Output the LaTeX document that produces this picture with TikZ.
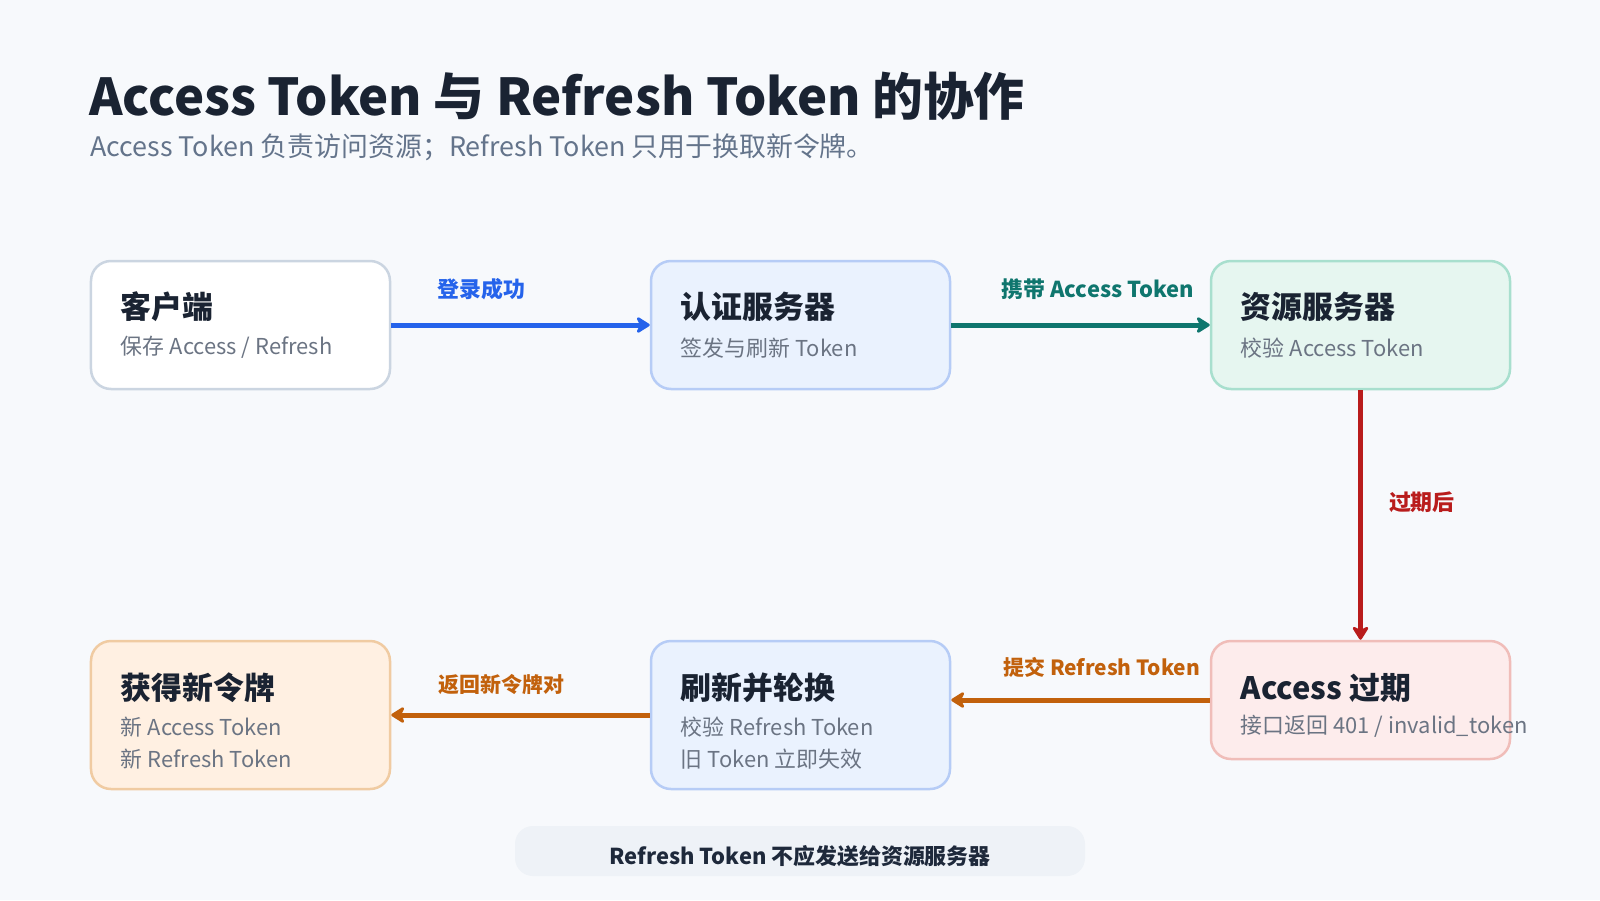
\documentclass[tikz,border=0pt]{standalone}
\usepackage{fontspec}
\setmainfont{Noto Sans CJK SC}
\usetikzlibrary{arrows.meta,positioning}

\definecolor{bgpage}{HTML}{F7F9FC}
\definecolor{ink}{HTML}{1A2332}
\definecolor{muted}{HTML}{64748B}
\definecolor{subgray}{HTML}{6B7483}
\definecolor{clientline}{HTML}{CBD5E1}
\definecolor{authfill}{HTML}{EAF2FE}
\definecolor{authline}{HTML}{B6CCF6}
\definecolor{resfill}{HTML}{E6F6F0}
\definecolor{resline}{HTML}{A8DFCE}
\definecolor{expfill}{HTML}{FDECEC}
\definecolor{expline}{HTML}{F0BDB9}
\definecolor{newfill}{HTML}{FFF0E2}
\definecolor{newline}{HTML}{F0CBA2}
\definecolor{flowblue}{HTML}{2563EB}
\definecolor{flowteal}{HTML}{0F766E}
\definecolor{flowred}{HTML}{B91C1C}
\definecolor{floworange}{HTML}{C2610C}
\definecolor{notefill}{HTML}{EEF2F7}
\definecolor{noteink}{HTML}{1E293B}

\begin{document}
\begin{tikzpicture}[
    x=1bp, y=-1bp,
    card/.style = {rounded corners=20bp, line width=2.5bp, minimum width=299bp, minimum height=128bp, inner sep=0pt},
    cardhead/.style = {anchor=west, inner sep=0pt, text=ink, font=\fontsize{31}{36}\selectfont\bfseries},
    cardsub/.style = {anchor=west, inner sep=0pt, text=subgray, font=\fontsize{22}{26}\selectfont},
    flow/.style = {line width=5bp, draw=#1, -{Stealth[length=16bp, width=20bp, inset=5bp, round]}},
    flowlabel/.style = {anchor=west, inner sep=0pt, text=#1, font=\fontsize{22}{26}\selectfont\bfseries},
    backlabel/.style = {flowlabel=#1, font=\fontsize{21}{25}\selectfont\bfseries}
    ]
    % page
    \fill[bgpage] (0,0) rectangle (1600,900);
    \useasboundingbox (0,0) rectangle (1600,900);

    % heading
    \node[anchor=base west, inner sep=0pt, text=ink, font=\fontsize{51}{60}\selectfont\bfseries] (title) at (89,115) {Access Token 与 Refresh Token 的协作};
    \node[anchor=base west, inner sep=0pt, text=muted, font=\fontsize{27}{32}\selectfont] (subtitle) at (90,156) {Access Token 负责访问资源；Refresh Token 只用于换取新令牌。};

    % top row
    \node[card, draw=clientline, fill=white] (client) at (240.5,325) {};
    \node[card, draw=authline, fill=authfill] (auth) at (800.5,325) {};
    \node[card, draw=resline, fill=resfill] (res) at (1360.5,325) {};

    % bottom row
    \node[card, draw=newline, fill=newfill, minimum height=148bp] (newtok) at (240.5,715) {};
    \node[card, draw=authline, fill=authfill, minimum height=148bp] (rotate) at (800.5,715) {};
    \node[card, draw=expline, fill=expfill, minimum height=118bp] (expired) at (1360.5,700) {};

    % card texts
    \node[cardhead] (clientT) at ([xshift=31bp, yshift=-47bp]client.north west) {客户端};
    \node[cardsub] (clientS) at ([xshift=31bp, yshift=-88bp]client.north west) {保存 Access / Refresh};
    \node[cardhead] (authT) at ([xshift=31bp, yshift=-47bp]auth.north west) {认证服务器};
    \node[cardsub] (authS) at ([xshift=31bp, yshift=-88bp]auth.north west) {签发与刷新 Token};
    \node[cardhead] (resT) at ([xshift=31bp, yshift=-47bp]res.north west) {资源服务器};
    \node[cardsub] (resS) at ([xshift=31bp, yshift=-88bp]res.north west) {校验 Access Token};
    \node[cardhead] (expT) at ([xshift=31bp, yshift=-48bp]expired.north west) {Access 过期};
    \node[cardsub] (expS) at ([xshift=31bp, yshift=-87bp]expired.north west) {接口返回 401 / invalid\_token};
    \node[cardhead] (rotT) at ([xshift=31bp, yshift=-48bp]rotate.north west) {刷新并轮换};
    \node[cardsub] (rotS1) at ([xshift=31bp, yshift=-87bp]rotate.north west) {校验 Refresh Token};
    \node[cardsub] (rotS2) at ([xshift=31bp, yshift=-119bp]rotate.north west) {旧 Token 立即失效};
    \node[cardhead] (newT) at ([xshift=31bp, yshift=-48bp]newtok.north west) {获得新令牌};
    \node[cardsub] (newS1) at ([xshift=31bp, yshift=-87bp]newtok.north west) {新 Access Token};
    \node[cardsub] (newS2) at ([xshift=31bp, yshift=-119bp]newtok.north west) {新 Refresh Token};

    % flows
    \draw[flow=flowblue] (client) -- node[flowlabel=flowblue, pos=0.17, yshift=36bp] (loginL) {登录成功} (auth);
    \draw[flow=flowteal] (auth) -- node[flowlabel=flowteal, pos=0.185, yshift=36bp] (carryL) {携带 Access Token} (res);
    \draw[flow=flowred] (res) -- node[flowlabel=flowred, pos=0.45, xshift=26bp] (expL) {过期后} (expired);
    \draw[flow=floworange] (expired) -- node[backlabel=floworange, pos=0.808, yshift=33bp] (submitL) {提交 Refresh Token} (rotate.east |- expired);
    \draw[flow=floworange] (rotate) -- node[backlabel=floworange, pos=0.827, yshift=31bp] (backL) {返回新令牌对} (newtok);

    % note
    \node[fill=notefill, rounded corners=18bp, minimum width=570bp, minimum height=50bp, inner sep=0pt] (note) at (800,851) {};
    \node[inner sep=0pt, text=noteink, font=\fontsize{22}{26}\selectfont\bfseries] (noteT) at ([yshift=-5bp]note.center) {Refresh Token 不应发送给资源服务器};
\end{tikzpicture}
\end{document}
